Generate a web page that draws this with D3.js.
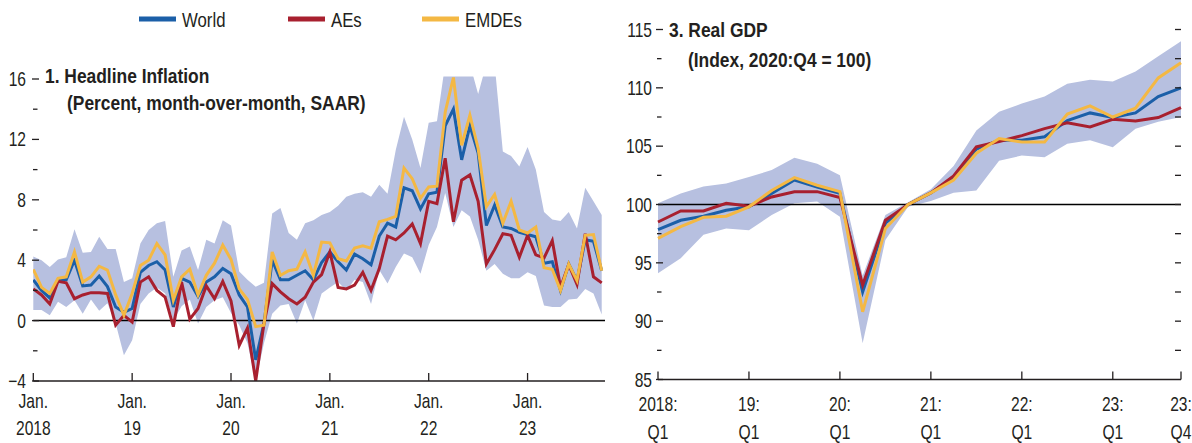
<!DOCTYPE html>
<html><head><meta charset="utf-8">
<script src="https://cdn.jsdelivr.net/npm/d3@7"></script>
<style>
html,body{margin:0;padding:0;background:#fff;}
svg{display:block;}
</style></head>
<body>
<svg id="chart" width="1192" height="443"></svg>
<script>
// ---------------- DATA ----------------
const seriesNames = ["World", "AEs", "EMDEs"];
const inflStart = "2018-01";   // monthly, Jan 2018 .. Oct 2023
const inflWorld = [2.7,2.0,1.5,2.7,2.7,4.0,2.3,2.35,2.95,2.25,0.9,0.55,0.8,3.2,3.65,3.9,3.35,0.9,2.8,2.55,1.6,2.55,2.9,3.45,3.1,1.7,0.9,-2.6,-0.2,4.0,2.7,2.7,3.0,3.3,2.7,3.85,4.55,3.9,3.35,4.4,4.1,3.7,5.6,6.45,6.2,8.8,8.6,7.4,8.4,8.5,12.9,14.0,10.65,12.9,11.1,6.3,7.65,6.2,6.1,5.85,5.7,5.55,3.8,3.9,2.0,3.75,2.65,5.35,5.25,3.3];
const inflAEs = [2.1,1.7,1.1,2.6,2.5,1.45,1.7,1.85,1.85,1.8,-0.3,0.35,-0.1,2.55,2.9,2.0,1.55,-0.4,2.55,0.1,0.8,2.3,1.45,2.6,1.3,-1.65,-0.5,-4.0,-0.2,2.45,1.9,1.45,1.1,1.55,2.55,3.05,4.55,2.2,2.1,2.35,3.2,2.0,3.45,5.6,5.35,5.8,6.4,5.1,7.9,7.75,10.75,6.55,9.3,9.65,7.9,3.75,4.7,5.75,5.65,4.2,5.65,4.35,4.15,5.3,2.2,3.7,2.4,5.75,2.9,2.5];
const inflEMDEs = [3.4,2.2,1.8,2.8,2.9,4.55,2.55,2.9,3.6,3.35,1.7,0.35,1.8,3.65,4.0,5.1,4.35,1.35,2.9,3.4,1.7,3.0,3.8,5.0,4.05,2.1,1.4,-0.4,-0.3,4.55,3.0,3.3,3.4,4.55,3.0,5.2,5.15,4.1,3.95,4.8,4.95,4.8,6.55,6.7,6.9,10.1,9.4,8.1,8.85,8.9,13.8,16.1,11.6,13.6,11.4,7.55,8.35,6.45,7.9,6.0,5.8,6.2,3.5,3.4,2.0,3.75,2.65,5.65,5.7,3.3];
const inflBandHigh = [4.25,4.0,3.55,4.05,4.2,6.05,4.5,4.55,5.55,4.75,4.75,2.55,2.8,5.1,6.0,6.45,6.6,2.9,4.65,4.9,3.35,5.35,5.1,6.65,6.3,3.25,2.7,2.25,2.5,7.1,7.45,5.8,5.35,6.45,6.65,7.0,7.2,7.6,8.2,8.4,8.5,8.2,9.0,8.4,11.3,13.5,12.0,10.1,13.1,13.2,17,17,17,17,15.0,17,17,11.2,10.9,10.2,11.5,10.0,7.2,6.7,6.6,7.2,6.1,8.8,7.9,7.0];
const inflBandLow = [0.7,0.7,0.35,1.25,0.9,1.35,0.45,1.4,0.65,1.15,-0.2,-2.3,-1.3,1.1,1.8,2.2,1.8,0.0,0.95,1.4,-0.2,0.9,1.35,1.55,0.5,-0.3,-1.5,-4.0,-1.5,0.45,1.0,1.1,-0.2,1.35,0.0,1.8,2.2,2.55,2.0,2.7,2.55,1.1,3.35,2.45,3.55,4.45,4.2,3.1,5.0,6.2,8.45,6.2,7.3,6.9,5.35,3.3,3.75,3.1,2.8,2.8,3.2,2.95,1.0,0.9,0.9,1.4,1.45,2.1,1.8,0.4];
const inflYTicks = [-4, 0, 4, 8, 12, 16];
const inflYMinor = [-2, 2, 6, 10, 14];
const inflXTickLabels = [["Jan.","2018"],["Jan.","19"],["Jan.","20"],["Jan.","21"],["Jan.","22"],["Jan.","23"]];

const gdpQuarters = ["2018Q1","2018Q2","2018Q3","2018Q4","2019Q1","2019Q2","2019Q3","2019Q4","2020Q1","2020Q2","2020Q3","2020Q4","2021Q1","2021Q2","2021Q3","2021Q4","2022Q1","2022Q2","2022Q3","2022Q4","2023Q1","2023Q2","2023Q3","2023Q4"];
const gdpWorld = [97.85,98.65,99.0,99.5,99.8,100.95,102.1,101.5,100.95,92.5,98.4,100,101.0,102.3,104.75,105.5,105.5,105.8,107.2,107.85,107.45,107.85,109.25,110.0];
const gdpAEs = [98.5,99.45,99.45,100.1,99.85,100.65,101.1,101.1,100.6,93.1,98.65,100,101.0,102.45,104.95,105.4,105.9,106.5,107.0,106.65,107.3,107.15,107.45,108.3];
const gdpEMDEs = [97.1,98.1,98.9,99.0,99.8,101.2,102.3,101.65,101.1,90.8,97.95,100,101.0,102.1,104.4,105.65,105.35,105.35,107.75,108.45,107.5,108.25,110.85,112.15];
const gdpBandHigh = [100.1,100.95,101.55,101.8,102.35,102.95,104.0,103.5,102.5,93.9,99.1,100.2,101.3,103.3,106.35,107.95,108.65,109.25,110.35,110.7,110.55,111.4,112.7,114.0];
const gdpBandLow = [94.1,95.4,97.4,97.95,97.8,99.1,100.1,100.25,98.95,88.1,96.95,99.8,100.3,101.0,101.2,103.75,104.2,104.05,105.2,105.5,104.9,106.5,107.1,107.5];
const gdpYTicks = [85, 90, 95, 100, 105, 110, 115];
const gdpYMinor = [87.5, 92.5, 97.5, 102.5, 107.5, 112.5];
const gdpXTickIdx = [0, 4, 8, 12, 16, 20, 23];
const gdpXTickLabels = [["2018:","Q1"],["19:","Q1"],["20:","Q1"],["21:","Q1"],["22:","Q1"],["23:","Q1"],["23:","Q4"]];

// ---------------- STYLE ----------------
const colors = {World:"#1b5fa8", AEs:"#a8202f", EMDEs:"#f4b843"};
const bandColor = "#b7c0e0";
const inkColor = "#231f20";

function fontAvailable(name){
  const c = document.createElement("canvas").getContext("2d");
  const s = "abcdefghijklmnopqrstuvwxyz0123456789";
  c.font = "40px monospace"; const w1 = c.measureText(s).width;
  c.font = `40px "${name}", monospace`; const w2 = c.measureText(s).width;
  c.font = "40px serif"; const w3 = c.measureText(s).width;
  c.font = `40px "${name}", serif`; const w4 = c.measureText(s).width;
  return w1 !== w2 || w3 !== w4;
}
let FONT = "'Liberation Sans', Arial, sans-serif", NARROW = false;
for (const f of ["Liberation Sans Narrow","Arial Narrow"]) {
  if (fontAvailable(f)) { FONT = `'${f}', sans-serif`; NARROW = true; break; }
}

const svg = d3.select("#chart");

function txt(g, x, y, str, o = {}) {
  const sx = NARROW ? 1 : (o.sx || 0.78);
  return g.append("text")
    .attr("transform", `translate(${x},${y}) scale(${sx},1)`)
    .attr("text-anchor", o.anchor || "start")
    .attr("font-family", FONT)
    .attr("font-size", o.size || 20)
    .attr("font-weight", o.weight || "normal")
    .attr("fill", o.fill || inkColor)
    .text(str);
}

// ---------------- LEGEND ----------------
const legendPos = [{x:139, tx:182},{x:288, tx:331},{x:422, tx:465}];
seriesNames.forEach((n, i) => {
  const p = legendPos[i];
  svg.append("line").attr("x1", p.x).attr("x2", p.x + 37).attr("y1", 19).attr("y2", 19)
    .attr("stroke", colors[n]).attr("stroke-width", 5);
  txt(svg, p.tx, 26.5, n, {size: 19.5, sx: 0.86});
});

// ---------------- PANEL 1 ----------------
(function(){
  const g = svg.append("g");
  const n = inflWorld.length;
  const x = d3.scaleLinear().domain([0, 69.4]).range([33.3, 605]);
  const y = d3.scaleLinear().domain([-4, 16]).range([381, 79]);
  const idx = d3.range(n);

  g.append("clipPath").attr("id","clip1").append("rect")
    .attr("x", 33).attr("y", 76.5).attr("width", 575).attr("height", 381 - 76.5);

  const area = d3.area().x(i => x(i)).y0(i => y(inflBandLow[i])).y1(i => y(inflBandHigh[i]));
  g.append("path").datum(idx).attr("d", area).attr("fill", bandColor).attr("clip-path","url(#clip1)");

  g.append("line").attr("x1", x(0)).attr("x2", x.range()[1]).attr("y1", y(0)).attr("y2", y(0))
    .attr("stroke", "#000").attr("stroke-width", 1.5);

  const line = arr => d3.line().x(i => x(i)).y(i => y(arr[i]))(idx);
  [["World", inflWorld],["AEs", inflAEs],["EMDEs", inflEMDEs]].forEach(([k, arr]) => {
    g.append("path").attr("d", line(arr)).attr("fill","none").attr("stroke", colors[k])
      .attr("stroke-width", 3).attr("stroke-linejoin","miter").attr("clip-path","url(#clip1)");
  });

  g.append("line").attr("x1", x(0)).attr("x2", x.range()[1]).attr("y1", y(-4)).attr("y2", y(-4))
    .attr("stroke", inkColor).attr("stroke-width", 1.5);
  inflXTickLabels.forEach((lab, k) => {
    const xi = x(k * 12);
    g.append("line").attr("x1", xi).attr("x2", xi).attr("y1", y(-4)).attr("y2", y(-4) - 8)
      .attr("stroke", inkColor).attr("stroke-width", 1.3);
    txt(g, xi, 408, lab[0], {anchor:"middle"});
    txt(g, xi, 435, lab[1], {anchor:"middle"});
  });

  inflYTicks.forEach(v => {
    g.append("line").attr("x1", 32).attr("x2", 39).attr("y1", y(v)).attr("y2", y(v))
      .attr("stroke", inkColor).attr("stroke-width", 1.3);
    txt(g, 26, y(v) + 7, v < 0 ? "\u2212" + Math.abs(v) : String(v), {anchor:"end"});
  });
  inflYMinor.forEach(v => {
    g.append("line").attr("x1", 33).attr("x2", 37.5).attr("y1", y(v)).attr("y2", y(v))
      .attr("stroke", inkColor).attr("stroke-width", 1.3);
  });

  txt(g, 45, 83, "1. Headline Inflation", {weight:"bold", size:20, sx:0.87});
  txt(g, 67, 110, "(Percent, month-over-month, SAAR)", {weight:"bold", size:20, sx:0.87});
})();

// ---------------- PANEL 3 ----------------
(function(){
  const g = svg.append("g");
  const x = d3.scaleLinear().domain([0, gdpQuarters.length - 1]).range([658, 1181]);
  const y = d3.scaleLinear().domain([85, 115]).range([379.5, 29.5]);
  const idx = d3.range(gdpQuarters.length);

  const area = d3.area().x(i => x(i)).y0(i => y(gdpBandLow[i])).y1(i => y(gdpBandHigh[i]));
  g.append("path").datum(idx).attr("d", area).attr("fill", bandColor);

  g.append("line").attr("x1", x(0)).attr("x2", x(23)).attr("y1", y(100)).attr("y2", y(100))
    .attr("stroke", "#000").attr("stroke-width", 1.5);

  const line = arr => d3.line().x(i => x(i)).y(i => y(arr[i]))(idx);
  [["World", gdpWorld],["AEs", gdpAEs],["EMDEs", gdpEMDEs]].forEach(([k, arr]) => {
    g.append("path").attr("d", line(arr)).attr("fill","none").attr("stroke", colors[k])
      .attr("stroke-width", 3);
  });

  g.append("line").attr("x1", x(0)).attr("x2", x(23)).attr("y1", y(85)).attr("y2", y(85))
    .attr("stroke", inkColor).attr("stroke-width", 1.5);
  gdpXTickIdx.forEach((qi, k) => {
    const xi = x(qi);
    g.append("line").attr("x1", xi).attr("x2", xi).attr("y1", y(85)).attr("y2", y(85) - 8)
      .attr("stroke", inkColor).attr("stroke-width", 1.3);
    txt(g, xi, 411, gdpXTickLabels[k][0], {anchor:"middle"});
    txt(g, xi, 439, gdpXTickLabels[k][1], {anchor:"middle"});
  });

  gdpYTicks.forEach(v => {
    g.append("line").attr("x1", 656).attr("x2", 663).attr("y1", y(v)).attr("y2", y(v))
      .attr("stroke", inkColor).attr("stroke-width", 1.3);
    txt(g, 652, y(v) + 7, String(v), {anchor:"end"});
    if (v > 85) g.append("line").attr("x1", 1175).attr("x2", 1181).attr("y1", y(v)).attr("y2", y(v))
      .attr("stroke", inkColor).attr("stroke-width", 1.3);
  });
  gdpYMinor.forEach(v => {
    g.append("line").attr("x1", 657).attr("x2", 661.5).attr("y1", y(v)).attr("y2", y(v))
      .attr("stroke", inkColor).attr("stroke-width", 1.3);
    g.append("line").attr("x1", 1175).attr("x2", 1181).attr("y1", y(v)).attr("y2", y(v))
      .attr("stroke", inkColor).attr("stroke-width", 1.3);
  });

  txt(g, 669, 37, "3. Real GDP", {weight:"bold", size:20, sx:0.87});
  txt(g, 688, 67, "(Index, 2020:Q4 = 100)", {weight:"bold", size:20, sx:0.87});
})();
</script>
</body></html>
